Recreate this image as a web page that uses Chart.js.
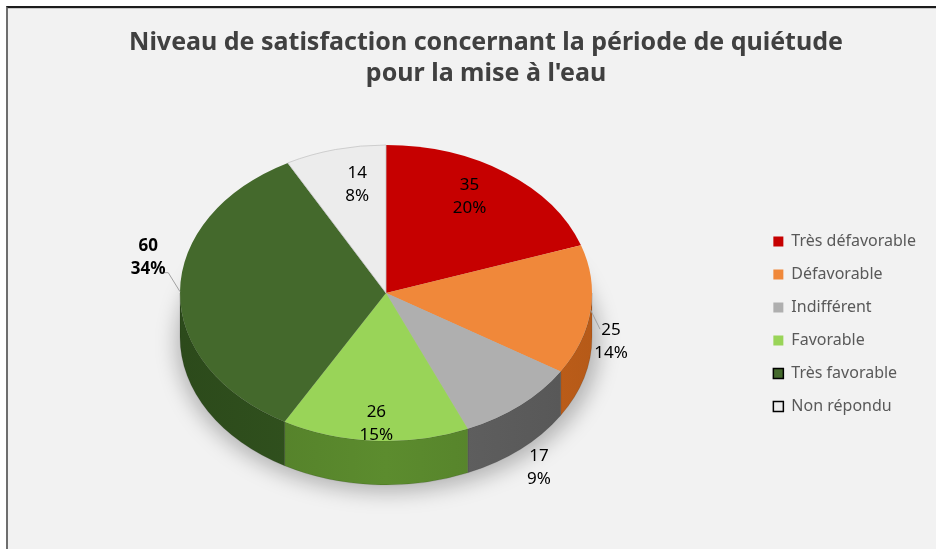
<!DOCTYPE html>
<html>
<head>
<meta charset="utf-8">
<script src="https://cdn.jsdelivr.net/npm/chart.js@4.4.1/dist/chart.umd.min.js"></script>
<style>
  html, body { margin: 0; padding: 0; background: #fff; }
  #frame {
    position: absolute; left: 6px; top: 6px; width: 940px; height: 560px;
    background: #f2f2f2;
    border-top: 2px solid #1c1c1c;
    border-left: 2px solid #6e6e6e;
    box-shadow: inset 0 1px 0 #c8c8c8;
  }
  #wrap { position: absolute; left: 0; top: 0; width: 936px; height: 549px; }
</style>
</head>
<body>
<div id="frame"></div>
<div id="wrap"><canvas id="pie-chart"></canvas></div>
<script>
var categories = ["Très défavorable","Défavorable","Indifférent","Favorable","Très favorable","Non répondu"];
var counts = [35,25,17,26,60,14];
var percents = ["20%","14%","9%","15%","34%","8%"];

var topColors  = ["#c60000","#f0883a","#afafaf","#99d458","#44692c","#ececec"];
var sideColors = ["#8a0000","#b65a18","#565656","#507a28","#2c4a1b","#bdbdbd"];

// where the ellipse sits on the page (the pie itself is drawn by chart.js)
var CX = 386, CY = 293, RX = 206, RY = 148, DEPTH = 44;

// label placement: [angle shift in degrees, radial factor], optional leader
var labelPlace = [
  {da: -3.8, f: 0.77},
  {da: 10, f: 1.14, leader: [-11, -12, -11, -12]},
  {da: 8.4, f: 1.39},
  {da: 0, f: 0.88},
  {da: 11.5, f: 1.18, bold: true, leader: [20, 16, 16, 16]},
  {da: 3.5, f: 0.75}
];

function mapPoint(ang, f) {
  return {
    x: CX + RX * f * Math.cos(ang),
    y: CY + RY * f * Math.sin(ang)
  };
}

var pie3d = {
  id: 'pie3d',
  beforeDatasetsDraw: function(chart) {
    var ctx = chart.ctx;
    var arcs = chart.getDatasetMeta(0).data;
    // soft shadow under the pie
    ctx.save();
    ctx.filter = 'blur(10px)';
    ctx.fillStyle = 'rgba(0,0,0,0.25)';
    ctx.beginPath();
    ctx.ellipse(CX + 2, CY + DEPTH + 6, RX + 6, RY + 2, 0, 0, Math.PI * 2);
    ctx.fill();
    ctx.restore();

    // front walls
    arcs.forEach(function(el, i) {
      var a0 = Math.max(el.startAngle, 0);
      var a1 = Math.min(el.endAngle, Math.PI);
      if (a1 <= a0) return;
      ctx.save();
      var grad = ctx.createLinearGradient(CX - RX, 0, CX + RX, 0);
      grad.addColorStop(0, sideColors[i]);
      grad.addColorStop(0.5, Chart.helpers.color(sideColors[i]).lighten(0.15).hexString());
      grad.addColorStop(1, sideColors[i]);
      ctx.fillStyle = grad;
      ctx.beginPath();
      ctx.ellipse(CX, CY, RX, RY, 0, a0, a1, false);
      ctx.lineTo(CX + RX * Math.cos(a1), CY + DEPTH + RY * Math.sin(a1));
      ctx.ellipse(CX, CY + DEPTH, RX, RY, 0, a1, a0, true);
      ctx.closePath();
      ctx.fill();
      ctx.strokeStyle = 'rgba(0,0,0,0.15)';
      ctx.lineWidth = 0.8;
      ctx.stroke();
      ctx.restore();
    });

    // squash the library's circle into the ellipse
    var el = arcs[0];
    var r = el.outerRadius;
    ctx.save();
    ctx.translate(CX, CY);
    ctx.scale(RX / r, RY / r);
    ctx.translate(-el.x, -el.y);
  },
  afterDatasetsDraw: function(chart) {
    var ctx = chart.ctx;
    ctx.restore();
    var arcs = chart.getDatasetMeta(0).data;
    ctx.save();
    ctx.textAlign = 'center';
    ctx.textBaseline = 'middle';
    arcs.forEach(function(el, i) {
      var p = labelPlace[i];
      var mid = (el.startAngle + el.endAngle) / 2;
      var pos = mapPoint(mid + p.da * Math.PI / 180, p.f);
      if (p.leader) {
        var edge = mapPoint(mid, 1);
        ctx.strokeStyle = '#a0a0a0';
        ctx.lineWidth = 1;
        ctx.beginPath();
        ctx.moveTo(edge.x, edge.y);
        ctx.lineTo(pos.x + p.leader[0], pos.y + p.leader[1]);
        ctx.lineTo(pos.x + p.leader[2], pos.y + p.leader[3]);
        ctx.stroke();
      }
      ctx.fillStyle = '#000';
      ctx.font = (p.bold ? 'bold ' : '') + '17px "Noto Sans"';
      ctx.fillText(String(counts[i]), pos.x, pos.y - 11);
      ctx.fillText(percents[i], pos.x, pos.y + 12);
    });
    ctx.restore();
  }
};

new Chart(document.getElementById("pie-chart"), {
  type: 'pie',
  data: {
    labels: categories,
    datasets: [{
      data: counts,
      backgroundColor: topColors,
      borderColor: ["#c60000","#f0883a","#afafaf","#99d458","#44692c","#c4c4c4"],
      borderWidth: [0,0,0,0,0,1],
      clip: false
    }]
  },
  plugins: [pie3d],
  options: {
    responsive: true,
    maintainAspectRatio: false,
    animation: false,
    events: [],
    layout: { padding: { left: 46, right: 10, top: 0, bottom: 0 } },
    plugins: {
      title: {
        display: true,
        text: ["Niveau de satisfaction concernant la période de quiétude", "pour la mise à l'eau"],
        color: '#404040',
        font: { family: '"Noto Sans"', size: 25, weight: 'bold', lineHeight: 1.24 },
        padding: { top: 27, bottom: 10 }
      },
      legend: {
        position: 'right',
        align: 'center',
        fullSize: false,
        labels: {
          boxWidth: 10,
          boxHeight: 10,
          padding: 17,
          color: '#595959',
          font: { family: '"Noto Sans"', size: 16 },
          generateLabels: function(chart) {
            var items = Chart.overrides.pie.plugins.legend.labels.generateLabels(chart);
            items.forEach(function(it, i) {
              if (i >= 4) {
                it.strokeStyle = '#000';
                it.lineWidth = 1.5;
              } else {
                it.lineWidth = 0;
              }
            });
            return items;
          }
        }
      },
      tooltip: { enabled: false }
    }
  }
});
</script>
</body>
</html>
